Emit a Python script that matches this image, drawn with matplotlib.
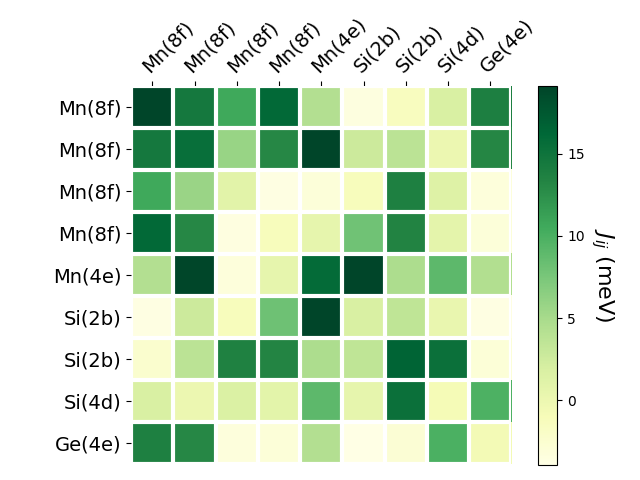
import matplotlib
matplotlib.use("Agg")
import matplotlib.pyplot as plt
import numpy as np

# site labels (rows and columns)
labels = ['Mn(8f)', 'Mn(8f)', 'Mn(8f)', 'Mn(8f)', 'Mn(4e)',
          'Si(2b)', 'Si(2b)', 'Si(4d)', 'Ge(4e)']

# exchange couplings J_ij in meV
J = np.array([
    [19.13, 14.5, 10.6, 16.0, 4.3, -3.5, -1.5, 1.8, 13.8],
    [14.5, 15.5, 5.8, 13.0, 19.1, 2.7, 3.8, 0.0, 13.1],
    [10.6, 5.7, 1.0, -3.7, -3.2, -1.3, 13.7, 1.3, -3.3],
    [16.0, 13.0, -3.6, -1.3, 0.5, 8.0, 13.4, 0.8, -3.2],
    [4.3, 19.0, -3.3, 0.5, 15.8, 19.1, 4.7, 9.0, 4.4],
    [-3.7, 2.7, -1.3, 8.1, 19.1, 1.8, 3.5, 0.2, -3.7],
    [-2.5, 3.8, 13.6, 13.3, 4.7, 3.5, 16.5, 15.3, -3.0],
    [1.8, 0.0, 1.6, 0.9, 9.0, 0.5, 15.3, -0.8, 9.8],
    [13.7, 13.0, -3.4, -3.1, 4.3, -3.95, -2.8, 9.9, -0.7],
])

fig = plt.figure(figsize=(6.4, 4.8), dpi=100)
ax = fig.add_axes([0.205, 0.033, 0.594, 0.7875])
cax = fig.add_axes([0.841, 0.031, 0.030, 0.790])

im = ax.imshow(J, cmap='YlGn', aspect='auto')

n = len(labels)
ax.set_xticks(np.arange(n))
ax.set_yticks(np.arange(n))
ax.set_xticklabels(labels, fontsize=14)
ax.set_yticklabels(labels, fontsize=14)
ax.tick_params(top=True, bottom=False, labeltop=True, labelbottom=False)
plt.setp(ax.get_xticklabels(), rotation=45, ha='left', rotation_mode='anchor')

# white separators between cells
ax.set_xticks(np.arange(n + 1) - .5, minor=True)
ax.set_yticks(np.arange(n + 1) - .5, minor=True)
ax.grid(which='minor', color='w', linestyle='-', linewidth=3)
ax.tick_params(which='minor', top=False, bottom=False, left=False)
for s in ax.spines.values():
    s.set_visible(False)

cbar = fig.colorbar(im, cax=cax)
cbar.set_label('$J_{ij}$ (meV)', rotation=270, fontsize=16, labelpad=22)
cbar.set_ticks([0, 5, 10, 15])

fig.savefig('out.png', dpi=100)
